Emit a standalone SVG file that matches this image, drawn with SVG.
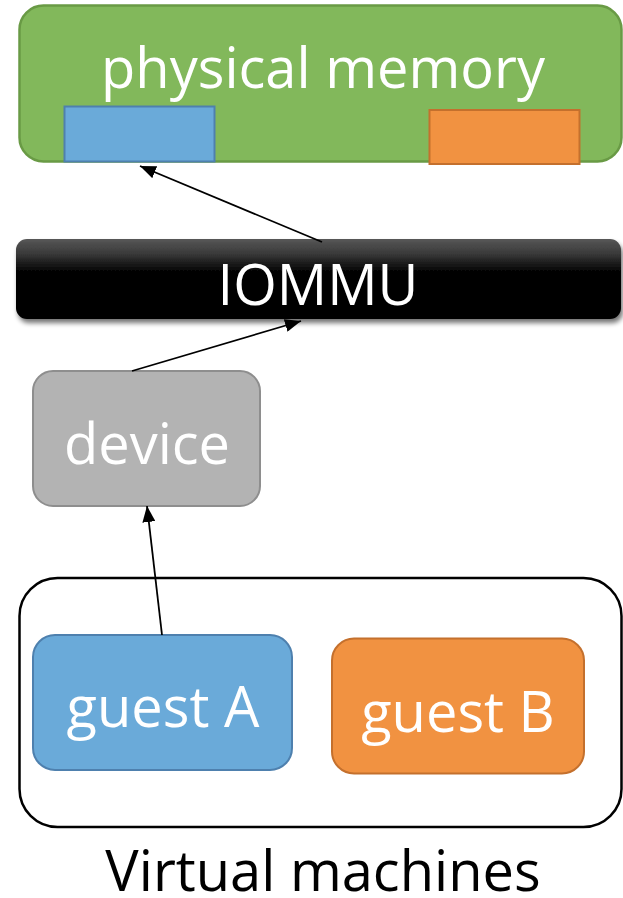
<svg xmlns="http://www.w3.org/2000/svg" width="623" height="898" viewBox="0 0 623 898">
  <defs>
    <style>
      .lbl { font-family: "Open Sans", "Noto Sans", "Liberation Sans", sans-serif; font-size: 56px; text-anchor: middle; fill: #ffffff; }
      .dark { fill: #000000; }
      .edge { fill: none; stroke: #000000; stroke-width: 1.8; marker-end: url(#head); }
    </style>
    <marker id="head" viewBox="0 0 16 13" refX="16" refY="6.5" markerWidth="16" markerHeight="13" markerUnits="userSpaceOnUse" orient="auto">
      <path d="M0,0 L16,6.5 L0,13 Z" fill="#000000"/>
    </marker>
    <linearGradient id="iommuFill" x1="0" y1="0" x2="0" y2="1">
      <stop offset="0" stop-color="#575757"/>
      <stop offset="0.18" stop-color="#3a3a3a"/>
      <stop offset="0.42" stop-color="#000000"/>
      <stop offset="1" stop-color="#000000"/>
    </linearGradient>
    <filter id="shadow" x="-5%" y="-20%" width="110%" height="150%">
      <feGaussianBlur in="SourceAlpha" stdDeviation="2.5"/>
      <feOffset dx="2" dy="4" result="b"/>
      <feComponentTransfer><feFuncA type="linear" slope="0.55"/></feComponentTransfer>
      <feMerge><feMergeNode/><feMergeNode in="SourceGraphic"/></feMerge>
    </filter>
  </defs>

  <!-- physical memory with two mapped regions -->
  <g id="memory">
    <rect x="19.5" y="5.5" width="602" height="156" rx="24" fill="#82b85b" stroke="#699a45" stroke-width="2.5"/>
    <text class="lbl" x="323" y="88">physical memory</text>
    <rect id="regionA" x="64.5" y="106.5" width="150" height="55" fill="#6aaad9" stroke="#4e80ae" stroke-width="2"/>
    <rect id="regionB" x="429.5" y="110" width="150" height="54" fill="#f19241" stroke="#c4702d" stroke-width="2"/>
  </g>

  <!-- IOMMU bar -->
  <g id="iommu">
    <rect x="16" y="239" width="605" height="80" rx="11" fill="url(#iommuFill)" filter="url(#shadow)"/>
    <text class="lbl" x="318" y="305">IOMMU</text>
  </g>

  <!-- device -->
  <g id="device">
    <rect x="33" y="371" width="227" height="135" rx="20" fill="#b3b3b3" stroke="#8e8e8e" stroke-width="2"/>
    <text class="lbl" x="147" y="464">device</text>
  </g>

  <!-- virtual machines container -->
  <g id="vms">
    <rect x="19.5" y="578" width="602" height="249" rx="38" fill="#ffffff" stroke="#000000" stroke-width="2.5"/>
    <text class="lbl dark" x="323" y="891">Virtual machines</text>
  </g>

  <g id="guestA">
    <rect x="33" y="635" width="259" height="135" rx="22" fill="#6aaad9" stroke="#4e80ae" stroke-width="2"/>
    <text class="lbl" x="163" y="727">guest A</text>
  </g>

  <g id="guestB">
    <rect x="332" y="638.5" width="252" height="135" rx="22" fill="#f19241" stroke="#c4702d" stroke-width="2"/>
    <text class="lbl" x="458" y="732">guest B</text>
  </g>

  <!-- connectors -->
  <g id="connectors">
    <path class="edge" d="M322,242 L140,166"/>
    <path class="edge" d="M132,371 L301,321"/>
    <path class="edge" d="M162,635 L147,506"/>
  </g>
</svg>
